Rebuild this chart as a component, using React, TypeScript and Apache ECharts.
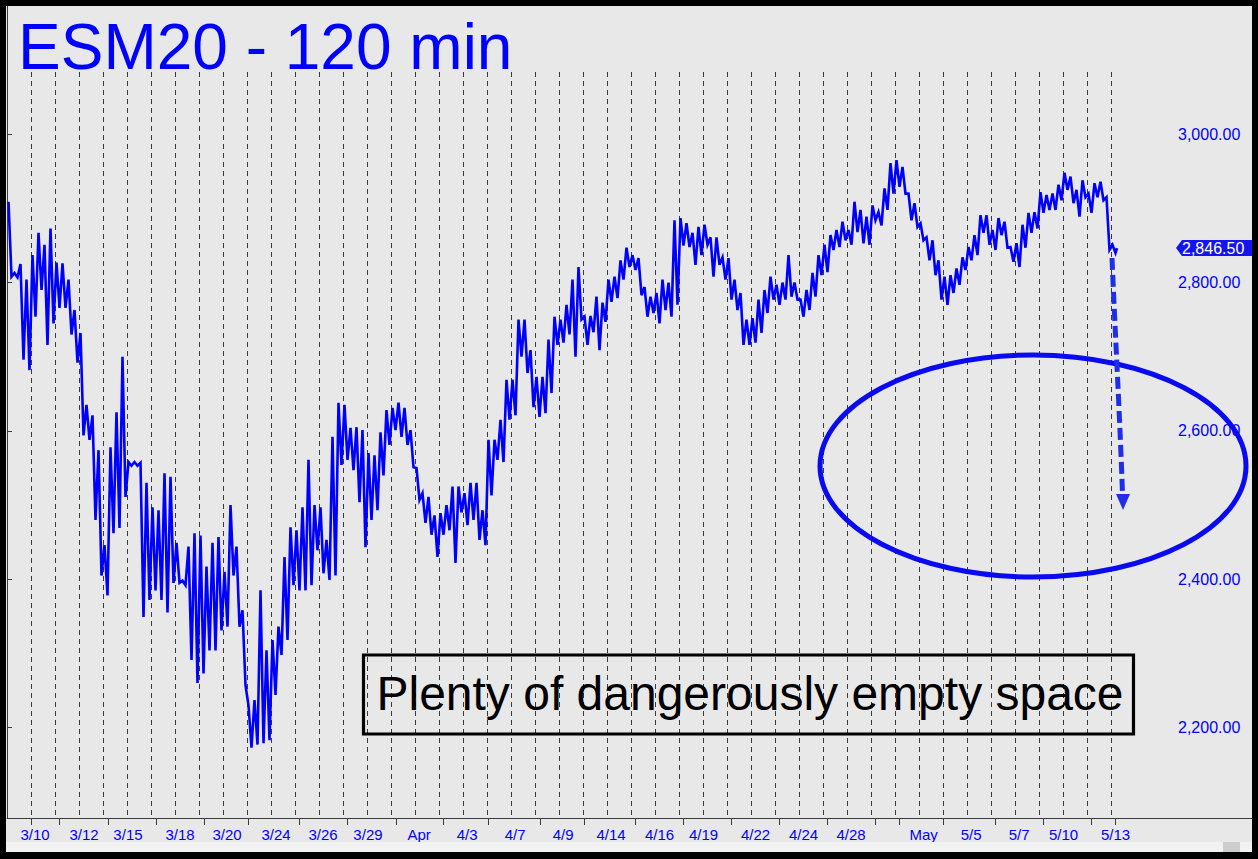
import React, { useEffect, useRef } from "react";
import * as echarts from "echarts";

// ---- data (120-min bars, grouped in quarter-day slots: high / low) ----
const highs = [
  2909, 2813, 2825, 2804, 2837, 2867, 2851, 2873, 2827, 2826,
  2804, 2763, 2732, 2635, 2621, 2574, 2446, 2578, 2625, 2700,
  2558, 2558, 2557, 2530, 2497, 2493, 2543, 2538, 2449, 2398,
  2444, 2462, 2459, 2417, 2449, 2457, 2410, 2500, 2444, 2358,
  2230, 2237, 2385, 2304, 2318, 2336, 2430, 2470, 2466, 2497,
  2561, 2500, 2497, 2453, 2592, 2638, 2635, 2604, 2605, 2601,
  2570, 2567, 2598, 2628, 2631, 2638, 2631, 2601, 2550, 2516,
  2511, 2486, 2489, 2500, 2525, 2525, 2516, 2530, 2530, 2493,
  2588, 2588, 2615, 2669, 2669, 2750, 2750, 2709, 2673, 2673,
  2723, 2754, 2750, 2770, 2804, 2821, 2754, 2755, 2781, 2773,
  2804, 2808, 2830, 2847, 2837, 2833, 2794, 2781, 2786, 2804,
  2800, 2884, 2887, 2880, 2867, 2875, 2878, 2861, 2861, 2834,
  2833, 2804, 2786, 2750, 2752, 2777, 2790, 2808, 2797, 2800,
  2837, 2800, 2777, 2790, 2813, 2837, 2851, 2864, 2871, 2882,
  2871, 2909, 2898, 2889, 2904, 2895, 2927, 2961, 2965, 2956,
  2920, 2907, 2880, 2861, 2857, 2830, 2808, 2810, 2819, 2834,
  2848, 2864, 2891, 2891, 2871, 2887, 2882, 2848, 2853, 2878,
  2894, 2895, 2922, 2918, 2920, 2932, 2948, 2943, 2925, 2938,
  2920, 2934, 2936, 2915, 2851,
];
const lows = [
  2808, 2807, 2696, 2682, 2754, 2790, 2716, 2745, 2766, 2766,
  2730, 2692, 2594, 2588, 2480, 2405, 2378, 2462, 2469, 2511,
  2553, 2553, 2349, 2372, 2385, 2372, 2355, 2395, 2395, 2392,
  2291, 2260, 2273, 2304, 2304, 2331, 2336, 2405, 2336, 2257,
  2173, 2177, 2179, 2183, 2244, 2298, 2318, 2392, 2385, 2385,
  2392, 2439, 2408, 2399, 2405, 2554, 2561, 2547, 2504, 2443,
  2480, 2493, 2540, 2581, 2601, 2592, 2581, 2551, 2507, 2476,
  2460, 2430, 2460, 2466, 2422, 2490, 2473, 2480, 2453, 2446,
  2513, 2561, 2558, 2615, 2621, 2700, 2678, 2632, 2619, 2624,
  2651, 2716, 2719, 2730, 2700, 2750, 2716, 2733, 2709, 2747,
  2774, 2779, 2804, 2821, 2817, 2783, 2754, 2759, 2745, 2763,
  2754, 2770, 2850, 2848, 2824, 2837, 2851, 2808, 2824, 2804,
  2777, 2763, 2716, 2716, 2719, 2732, 2759, 2777, 2770, 2777,
  2781, 2777, 2754, 2763, 2781, 2810, 2814, 2844, 2848, 2857,
  2851, 2868, 2853, 2851, 2884, 2877, 2898, 2920, 2929, 2920,
  2884, 2875, 2857, 2830, 2810, 2777, 2770, 2786, 2797, 2817,
  2830, 2837, 2867, 2851, 2844, 2864, 2847, 2828, 2821, 2847,
  2867, 2873, 2894, 2898, 2898, 2911, 2925, 2907, 2889, 2915,
  2894, 2915, 2911, 2844, 2840,
];
const SLOT_DAYS = 0.25;
const lastPrice = 2846.5;

const yTickValues = [2200, 2400, 2600, 2800, 3000];
const dateLabels = [
  "3/10", "3/12", "3/15", "3/18", "3/20", "3/24", "3/26", "3/29", "Apr", "4/3",
  "4/7", "4/9", "4/14", "4/16", "4/19", "4/22", "4/24", "4/28", "May", "5/5",
  "5/7", "5/10", "5/13",
];
const labelDays = [
  1.17, 3.21, 5.04, 7.21, 9.17, 11.21, 13.17, 15.04, 17.17, 19.17,
  21.17, 23.17, 25.17, 27.19, 29.02, 31.19, 33.19, 35.17, 38.19, 40.17,
  42.17, 44.02, 46.19,
];
const tickDays = [
  1.0, 2.19, 4.2, 6.21, 8.2, 10.04, 12.17, 14.19, 16.21, 18.19,
  20.04, 22.21, 24.04, 26.19, 28.19, 30.19, 32.19, 34.19, 36.19, 37.19,
  39.02, 41.19, 43.19, 45.19, 46.17,
];
const sessionDays = 46;

const FONT = '"Liberation Sans", Arial, Helvetica, sans-serif';
const BLUE = "#0000ff";

export default function App() {
  const ref = useRef<HTMLDivElement | null>(null);

  useEffect(() => {
    if (!ref.current) return;
    const chart = echarts.init(ref.current, null, { renderer: "svg" });

    const pricePath: number[][] = [];
    highs.forEach((h, i) => {
      pricePath.push([i * SLOT_DAYS + SLOT_DAYS / 4, h]);
      pricePath.push([i * SLOT_DAYS + (3 * SLOT_DAYS) / 4, lows[i]]);
    });
    pricePath.push([highs.length * SLOT_DAYS, lastPrice]);

    const nearestLabel = (v: number) => {
      let best = 0;
      let bd = Infinity;
      labelDays.forEach((d, i) => {
        const dd = Math.abs(d - v);
        if (dd < bd) {
          bd = dd;
          best = i;
        }
      });
      return dateLabels[best];
    };

    const option: any = {
      animation: false,
      backgroundColor: "#e8e8e8",
      grid: [
        { left: 7, top: 5, width: 1169, height: 813, containLabel: false },
        { left: 7, top: 72, width: 1104, height: 746, containLabel: false },
      ],
      xAxis: [
        {
          type: "value",
          gridIndex: 0,
          min: 0,
          max: 1169 / 24,
          axisLine: { show: true, lineStyle: { color: "#3c3c3c", width: 1 } },
          axisTick: {
            show: true,
            customValues: tickDays,
            length: 7,
            lineStyle: { color: "#3c3c3c" },
          },
          axisLabel: {
            show: true,
            customValues: labelDays,
            formatter: (v: number) => nearestLabel(v),
            color: BLUE,
            fontSize: 15,
            fontFamily: FONT,
            margin: 9,
          },
          splitLine: { show: false },
        },
        {
          type: "value",
          gridIndex: 1,
          min: 0,
          max: sessionDays,
          interval: 1,
          axisLine: { show: false },
          axisTick: { show: false },
          axisLabel: { show: false },
          splitLine: {
            show: true,
            lineStyle: { color: "#3a3a3a", width: 1, type: [5, 4] },
          },
        },
      ],
      yAxis: [
        {
          type: "value",
          gridIndex: 0,
          position: "right",
          min: 2078,
          max: 3174.3,
          axisLine: { show: true, lineStyle: { color: "#3c3c3c", width: 1 } },
          axisTick: {
            show: true,
            customValues: yTickValues,
            length: 5,
            lineStyle: { color: "#3c3c3c" },
          },
          axisLabel: {
            show: true,
            customValues: yTickValues,
            formatter: (v: number) =>
              v.toLocaleString("en-US", { minimumFractionDigits: 2, maximumFractionDigits: 2 }),
            color: BLUE,
            fontSize: 16,
            fontFamily: FONT,
            margin: 2,
          },
          splitLine: { show: false },
        },
        {
          type: "value",
          gridIndex: 1,
          min: 0,
          max: 1,
          show: false,
        },
      ],
      series: [
        {
          type: "line",
          xAxisIndex: 0,
          yAxisIndex: 0,
          data: pricePath,
          showSymbol: false,
          symbol: "none",
          silent: true,
          z: 3,
          lineStyle: { color: BLUE, width: 2.6, join: "miter" },
        },
      ],
    };
    chart.setOption(option);

    const py = chart.convertToPixel({ yAxisIndex: 0 }, lastPrice) as number;

    const graphic: any[] = [
      // black frame
      { type: "rect", shape: { x: 0, y: 0, width: 1258, height: 6 }, style: { fill: "#000" }, z: 100 },
      { type: "rect", shape: { x: 0, y: 0, width: 6, height: 859 }, style: { fill: "#000" }, z: 100 },
      { type: "rect", shape: { x: 1252, y: 0, width: 6, height: 859 }, style: { fill: "#000" }, z: 100 },
      { type: "rect", shape: { x: 0, y: 852, width: 1258, height: 7 }, style: { fill: "#000" }, z: 100 },
      // scroll strip
      { type: "rect", shape: { x: 6, y: 842, width: 1246, height: 10 }, style: { fill: "#f2f2f2" }, z: 50 },
      { type: "rect", shape: { x: 1223, y: 842, width: 17, height: 10 }, style: { fill: "#cdcdcd" }, z: 51 },
      // axis line extension under price scale
      {
        type: "line",
        shape: { x1: 1176, y1: 818.5, x2: 1252, y2: 818.5 },
        style: { stroke: "#3c3c3c", lineWidth: 1 },
        z: 50,
      },
      // title
      {
        type: "text",
        x: 18,
        y: 47,
        style: {
          text: "ESM20 - 120 min",
          fill: BLUE,
          font: `64px ${FONT}`,
          textAlign: "left",
          textVerticalAlign: "middle",
        },
        z: 60,
      },
      // annotation box
      {
        type: "rect",
        shape: { x: 363.5, y: 655, width: 770, height: 79 },
        style: { fill: "transparent", stroke: "#000", lineWidth: 3.2 },
        z: 60,
      },
      {
        type: "text",
        x: 750,
        y: 693,
        style: {
          text: "Plenty of dangerously empty space",
          fill: "#000",
          font: `48px ${FONT}`,
          textAlign: "center",
          textVerticalAlign: "middle",
        },
        z: 60,
      },
      // ellipse
      {
        type: "ellipse",
        shape: { cx: 1033, cy: 466, rx: 213, ry: 111 },
        style: { fill: "transparent", stroke: "#0a0af0", lineWidth: 5 },
        z: 60,
      },
      // dashed arrow
      {
        type: "bezierCurve",
        shape: { x1: 1112, y1: 258, cpx1: 1115, cpy1: 330, cpx2: 1120, cpy2: 420, x2: 1122.5, y2: 494 },
        style: { stroke: "#1f2fe8", lineWidth: 5, lineDash: [12, 5], fill: "transparent" },
        z: 61,
      },
      {
        type: "polygon",
        shape: { points: [[1116, 494], [1130, 494], [1123, 510]] },
        style: { fill: "#1f2fe8" },
        z: 61,
      },
      // last price flag
      {
        type: "polygon",
        shape: {
          points: [
            [1176, py],
            [1182, py - 8],
            [1252, py - 8],
            [1252, py + 8],
            [1182, py + 8],
          ],
        },
        style: { fill: "#1414ee" },
        z: 70,
      },
      {
        type: "text",
        x: 1182,
        y: py,
        style: {
          text: lastPrice.toLocaleString("en-US", { minimumFractionDigits: 2 }),
          fill: "#ffffff",
          font: `16px ${FONT}`,
          textAlign: "left",
          textVerticalAlign: "middle",
        },
        z: 71,
      },
    ];
    chart.setOption({ graphic });

    return () => chart.dispose();
  }, []);

  return (
    <div
      ref={ref}
      style={{ position: "absolute", left: 0, top: 0, width: 1258, height: 859 }}
    />
  );
}
